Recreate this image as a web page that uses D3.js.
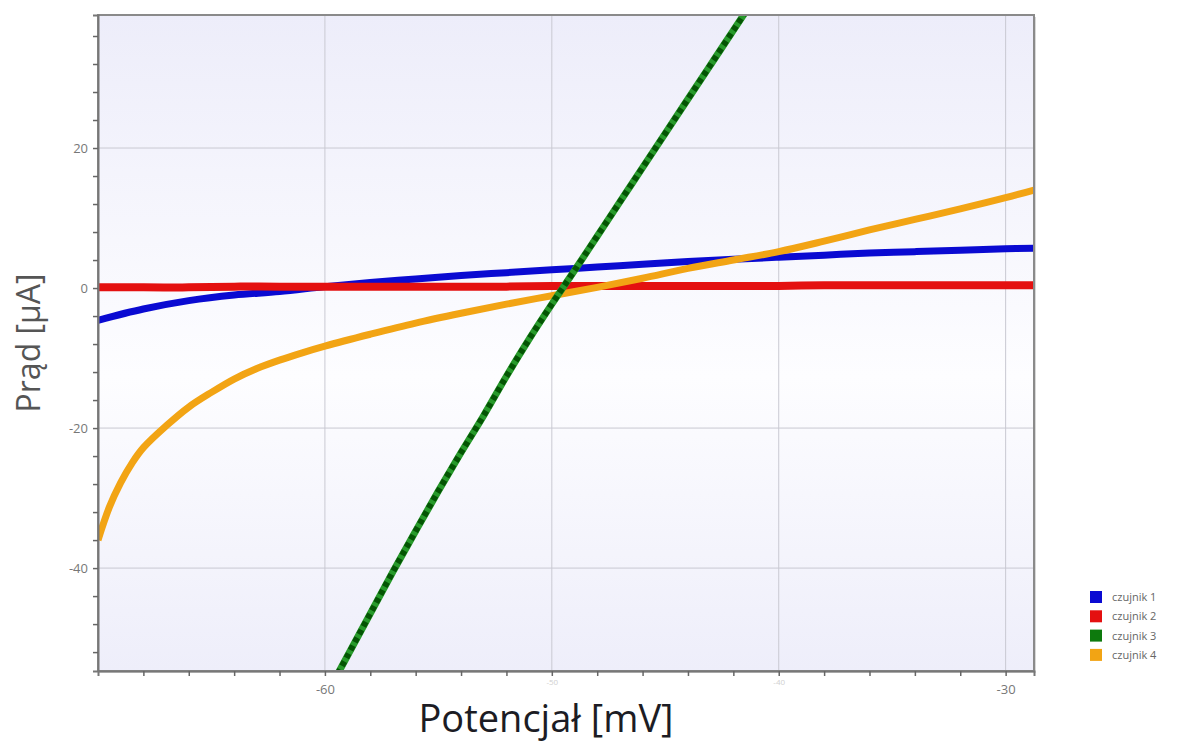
<!DOCTYPE html>
<html>
<head>
<meta charset="utf-8">
<script src="https://cdn.jsdelivr.net/npm/d3@7"></script>
<style>
  body { margin: 0; background: #fff; }
  svg { display: block; font-family: "Open Sans", "Noto Sans", sans-serif; }
</style>
</head>
<body>
<div id="chart"></div>
<script>
// potential [mV] and current [uA]
var volts = [-70, -68, -66, -64, -62, -60, -58, -56, -54, -52, -50, -48, -46, -44, -42, -40, -38, -36, -34, -32, -30, -28.75];
var sensor1 = [-4.6, -3.0, -1.8, -1.0, -0.5, 0.2, 0.8, 1.3, 1.8, 2.2, 2.6, 3.0, 3.4, 3.8, 4.1, 4.4, 4.7, 5.0, 5.2, 5.4, 5.6, 5.7];
var sensor2 = [0.1, 0.1, 0.1, 0.2, 0.2, 0.2, 0.2, 0.2, 0.2, 0.2, 0.3, 0.3, 0.3, 0.3, 0.3, 0.3, 0.4, 0.4, 0.4, 0.4, 0.4, 0.4];

var volts3 = [-60, -59, -58, -57, -56, -55, -54, -53, -52, -51, -50, -49, -48, -47, -46, -45, -44, -43, -42, -41];
var sensor3 = [-58.5, -52.5, -46.5, -40.5, -34.7, -29.0, -23.5, -18.2, -12.6, -7.3, -2.3, 2.5, 7.4, 12.3, 17.2, 22.1, 27.0, 31.9, 36.8, 41.7];

var volts4 = [-70, -69.5, -69, -68.5, -68, -67, -66, -65, -64, -63, -62, -61, -60, -58, -56, -54, -52, -50, -48, -46, -44, -42, -40, -38, -36, -34, -32, -30, -28.75];
var sensor4 = [-36, -31.3, -27.8, -25.0, -22.8, -19.7, -17.0, -14.9, -13.0, -11.5, -10.3, -9.25, -8.3, -6.6, -5.0, -3.6, -2.3, -1.1, 0.1, 1.4, 2.8, 4.0, 5.2, 6.7, 8.3, 9.8, 11.3, 12.9, 14.0];

var seriesNames = ["czujnik 1", "czujnik 2", "czujnik 3", "czujnik 4"];
var seriesColors = ["#0a0ad2", "#e41010", "#0d7a0d", "#f2a414"];

var xTicks = [-60, -50, -40, -30];
var yTicks = [-40, -20, 0, 20];

// page and plot box
var W = 1180, H = 744;
var plot = {left: 98, top: 15, right: 1034, bottom: 671};

var svg = d3.select("#chart").append("svg")
    .attr("width", W)
    .attr("height", H);

var x = d3.scaleLinear().domain([-70, -28.75]).range([plot.left, plot.right]);
var y = d3.scaleLinear().domain([-54.7, 39]).range([plot.bottom, plot.top]);

var defs = svg.append("defs");
var grad = defs.append("linearGradient")
    .attr("id", "bg").attr("x1", 0).attr("y1", 0).attr("x2", 0).attr("y2", 1);
grad.append("stop").attr("offset", "0%").attr("stop-color", "#ededfa");
grad.append("stop").attr("offset", "55%").attr("stop-color", "#fdfdff");
grad.append("stop").attr("offset", "100%").attr("stop-color", "#eeeefa");

defs.append("clipPath").attr("id", "clip")
  .append("rect")
    .attr("x", plot.left).attr("y", plot.top)
    .attr("width", plot.right - plot.left)
    .attr("height", plot.bottom - plot.top);

// shadow + background
svg.append("rect")
    .attr("x", plot.left + 2).attr("y", plot.top + 2)
    .attr("width", plot.right - plot.left)
    .attr("height", plot.bottom - plot.top)
    .attr("fill", "#d8d8d8");
svg.append("rect")
    .attr("x", plot.left).attr("y", plot.top)
    .attr("width", plot.right - plot.left)
    .attr("height", plot.bottom - plot.top)
    .attr("fill", "url(#bg)");

// grid
svg.append("g").selectAll("line")
    .data(xTicks)
  .enter().append("line")
    .attr("x1", function(d) { return x(d); })
    .attr("x2", function(d) { return x(d); })
    .attr("y1", plot.top).attr("y2", plot.bottom)
    .attr("stroke", "#c9c9d2").attr("stroke-width", 1);
svg.append("g").selectAll("line")
    .data(yTicks)
  .enter().append("line")
    .attr("x1", plot.left).attr("x2", plot.right)
    .attr("y1", function(d) { return y(d); })
    .attr("y2", function(d) { return y(d); })
    .attr("stroke", "#c9c9d2").attr("stroke-width", 1);

// series
var line = d3.line()
    .x(function(d) { return x(d[0]); })
    .y(function(d) { return y(d[1]); })
    .curve(d3.curveCatmullRom.alpha(0.5));

var lines = svg.append("g").attr("clip-path", "url(#clip)");

function draw(xs, ys, color, w) {
  return lines.append("path")
      .datum(d3.zip(xs, ys))
      .attr("d", line)
      .attr("fill", "none")
      .attr("stroke", color)
      .attr("stroke-width", w)
      .attr("stroke-linejoin", "round");
}

draw(volts, sensor1, seriesColors[0], 7);
draw(volts, sensor2, seriesColors[1], 8);
draw(volts4, sensor4, seriesColors[3], 7);
draw(volts3, sensor3, "#27992a", 7);
draw(volts3, sensor3, "#045404", 6).attr("stroke-dasharray", "5 4");

// frame
svg.append("rect")
    .attr("x", plot.left).attr("y", plot.top)
    .attr("width", plot.right - plot.left)
    .attr("height", plot.bottom - plot.top)
    .attr("fill", "none")
    .attr("stroke", "#8a8a8a")
    .attr("stroke-width", 2);

// axes
var yAxis = d3.axisLeft(y)
    .tickValues(d3.range(-52, 39, 4))
    .tickSize(5)
    .tickFormat(function(d) { return yTicks.indexOf(d) >= 0 ? d : ""; })
    .tickPadding(5);
var gy = svg.append("g")
    .attr("transform", "translate(" + plot.left + ",0)")
    .call(yAxis);

var xAxis = d3.axisBottom(x)
    .tickValues(d3.range(-68, -28, 2))
    .tickSize(5)
    .tickFormat(function(d) { return xTicks.indexOf(d) >= 0 ? d : ""; })
    .tickPadding(9);
var gx = svg.append("g")
    .attr("transform", "translate(0," + plot.bottom + ")")
    .call(xAxis);

[gx, gy].forEach(function(g) {
  g.select(".domain").attr("stroke", "#777").attr("stroke-width", 2);
  g.selectAll(".tick line").attr("stroke", "#666").attr("stroke-width", 1.5);
  g.selectAll(".tick text")
      .attr("fill", "#777")
      .style("font-size", "13px")
      .style("font-family", "'Open Sans', sans-serif");
});
// -50 and -40 are almost washed out in the original, tucked under the title
gx.selectAll(".tick text")
    .filter(function(d) { return d === -50 || d === -40; })
    .attr("y", 8)
    .attr("fill", "#d0d0d0")
    .style("font-size", "8px");

// axis titles
svg.append("text")
    .attr("transform", "translate(40,343) rotate(-90)")
    .attr("text-anchor", "middle")
    .attr("fill", "#555")
    .style("font-size", "32px")
    .text("Prąd [µA]");

svg.append("text")
    .attr("x", 546)
    .attr("y", 732)
    .attr("text-anchor", "middle")
    .attr("fill", "#1c1c24")
    .style("font-size", "38px")
    .text("Potencjał [mV]");

// legend
var legend = svg.append("g")
    .attr("transform", "translate(1090,591)");
var item = legend.selectAll("g")
    .data(seriesNames)
  .enter().append("g")
    .attr("transform", function(d, i) { return "translate(0," + (i * 19.3) + ")"; });
item.append("rect")
    .attr("width", 12).attr("height", 12)
    .attr("fill", function(d, i) { return seriesColors[i]; });
item.append("text")
    .attr("x", 22).attr("y", 10)
    .attr("fill", "#666")
    .style("font-size", "11px")
    .text(function(d) { return d; });
</script>
</body>
</html>
